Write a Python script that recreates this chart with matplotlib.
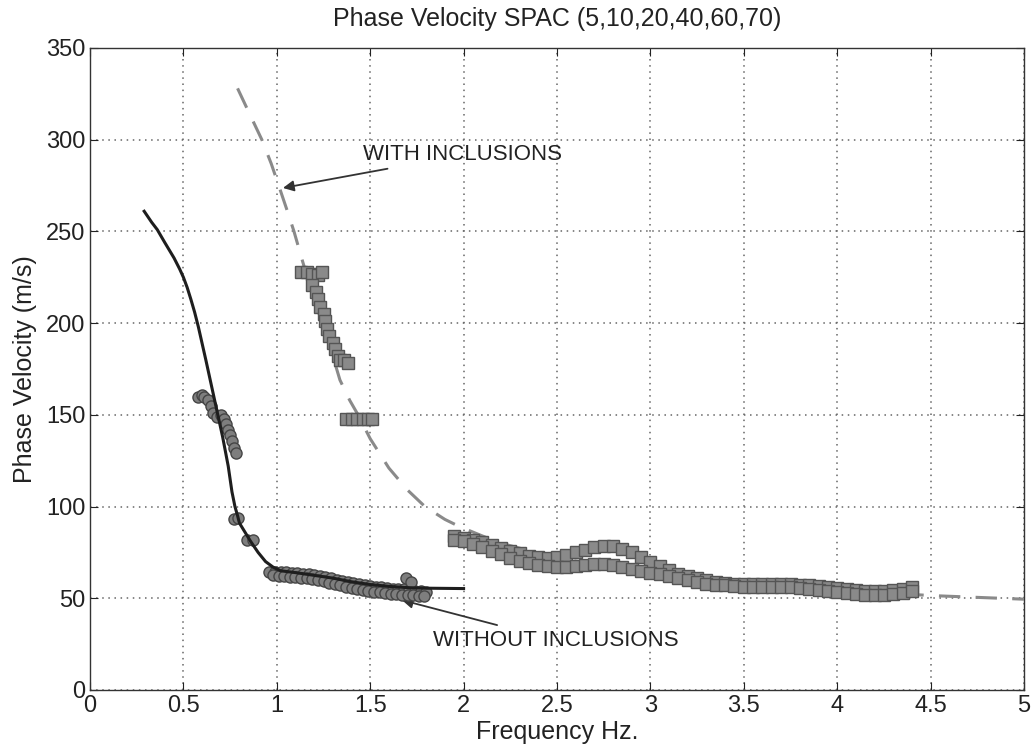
import matplotlib
matplotlib.use("Agg")
import matplotlib.pyplot as plt
from matplotlib import font_manager

names = {f.name for f in font_manager.fontManager.ttflist}
fam = ['Liberation Sans Narrow', 'Liberation Sans', 'DejaVu Sans']
fam = [f for f in fam if f in names] or ['DejaVu Sans']
plt.rcParams['font.family'] = fam

# --- data ---
title = "Phase Velocity SPAC (5,10,20,40,60,70)"
xlabel = "Frequency Hz."
ylabel = "Phase Velocity (m/s)"
xticks = [0, 0.5, 1, 1.5, 2, 2.5, 3, 3.5, 4, 4.5, 5]
xticklabels = ["0", "0.5", "1", "1.5", "2", "2.5", "3", "3.5", "4", "4.5", "5"]
yticks = [0, 50, 100, 150, 200, 250, 300, 350]

# model curve without inclusions (solid black)
without_f = [0.29, 0.33, 0.36, 0.40, 0.45, 0.48, 0.50, 0.52, 0.54, 0.56, 0.58,
             0.60, 0.62, 0.65, 0.68, 0.71, 0.74, 0.76, 0.776, 0.79, 0.80, 0.83,
             0.86, 0.90, 0.94, 0.98, 1.02, 1.10, 1.20, 1.30, 1.40, 1.50, 1.60,
             1.70, 1.80, 2.00]
without_v = [261, 255, 251, 244, 235.5, 229.5, 225, 219.5, 213, 206, 198,
             189, 180, 166, 152, 138, 122, 108, 100, 95, 91, 86,
             81, 75, 70, 67, 65, 64, 62.5, 61, 59, 57.5, 56.5,
             55.8, 55.5, 55.3]

# model curve with inclusions (dashed grey)
with_f = [0.79, 0.85, 0.92, 0.97, 1.017, 1.06, 1.092, 1.14, 1.2, 1.25, 1.3, 1.338,
          1.39, 1.435, 1.5, 1.6, 1.7, 1.793, 1.9, 1.98, 2.1, 2.2, 2.35, 2.5, 2.8,
          3.0, 3.25, 3.5, 4.0, 4.5, 5.0]
with_v = [328, 315, 300, 287, 273, 260, 250, 233, 213, 198, 182, 169,
          158, 150, 137, 121, 109, 100, 93, 89, 84, 80, 76, 72, 67,
          64, 61, 58, 54.5, 51.5, 49.5]

# observed SPAC points, without inclusions (circles)
circ_f = [0.58, 0.60, 0.61, 0.63, 0.65, 0.66, 0.68, 0.70, 0.72, 0.73, 0.74, 0.75,
          0.76, 0.77, 0.78, 0.77, 0.79, 0.84, 0.87, 1.69, 1.72]
circ_v = [160, 161, 160, 158, 155, 151, 149, 150, 148, 145, 142, 139,
          136, 132, 129, 93, 94, 82, 82, 61, 59]

circ_a_f = [0.96, 0.99, 1.02, 1.05, 1.08, 1.11, 1.14, 1.17, 1.20, 1.23, 1.26, 1.29,
            1.32, 1.35, 1.38, 1.41, 1.44, 1.47, 1.50, 1.53, 1.56, 1.59, 1.62, 1.65,
            1.68, 1.71, 1.74, 1.77, 1.80]
circ_a_v = [64.5, 64.5, 64.5, 64.3, 64, 63.8, 63.5, 63.2, 62.8, 62.3, 61.8, 61,
            60.2, 59.5, 58.8, 58.2, 57.7, 57.2, 56.8, 56.4, 56, 55.6, 55.3, 55,
            54.8, 54.5, 54.2, 53.8, 53.5]
circ_b_f = [0.98, 1.01, 1.04, 1.07, 1.10, 1.13, 1.16, 1.19, 1.22, 1.25, 1.28, 1.31,
            1.34, 1.37, 1.40, 1.43, 1.46, 1.49, 1.52, 1.55, 1.58, 1.61, 1.64, 1.67,
            1.70, 1.73, 1.76, 1.79]
circ_b_v = [62.5, 62.3, 62, 61.8, 61.5, 61.2, 60.8, 60.3, 59.8, 59.2, 58.5, 57.8,
            57, 56.3, 55.6, 55, 54.5, 54, 53.6, 53.2, 52.8, 52.5, 52.2, 52,
            51.8, 51.6, 51.5, 51.4]

# observed SPAC points, with inclusions (squares)
sq_f = [1.13, 1.16, 1.19, 1.22, 1.24, 1.19, 1.21, 1.22, 1.23, 1.25, 1.26, 1.27,
        1.28, 1.30, 1.31, 1.33, 1.34, 1.36, 1.38, 1.37, 1.40, 1.43, 1.46, 1.49, 1.51]
sq_v = [228, 228, 227, 226, 228, 221, 217, 213, 209, 205, 201, 197,
        193, 189, 186, 182, 180, 180, 178, 148, 148, 148, 148, 148, 148]

band_f = [1.95, 2.00, 2.05, 2.10, 2.15, 2.20, 2.25, 2.30, 2.35, 2.40, 2.45, 2.50,
          2.55, 2.60, 2.65, 2.70, 2.75, 2.80, 2.85, 2.90, 2.95, 3.00, 3.05, 3.10,
          3.15, 3.20, 3.25, 3.30, 3.35, 3.40, 3.45, 3.50, 3.55, 3.60, 3.65, 3.70,
          3.75, 3.80, 3.85, 3.90, 3.95, 4.00, 4.05, 4.10, 4.15, 4.20, 4.25, 4.30,
          4.35, 4.40]
band_upper = [84, 83, 82, 80.5, 79, 77.5, 76, 74.5, 73, 72.5, 72, 72.5,
              73.5, 75, 76.5, 78, 78.5, 78.5, 77, 75, 72.5, 70, 67.5, 65.5,
              63.5, 62, 61, 60, 59, 58.5, 58, 58, 58, 58, 58, 58,
              58, 57.5, 57, 56.5, 56, 55.5, 55, 54.5, 54, 54, 54, 54.5,
              55, 56]
band_lower = [82, 81, 79.5, 78, 76, 74, 72, 70.5, 69, 68, 67.5, 67,
              67, 67.5, 68, 68.5, 68.5, 68, 67, 66, 65, 64, 63, 62,
              61, 60, 59, 58, 57.5, 57, 56.5, 56, 56, 56, 56, 56,
              56, 55.5, 55, 54.5, 54, 53.5, 53, 52.5, 52, 52, 52, 52.5,
              53, 54]

fig = plt.figure(figsize=(10.32, 7.48), dpi=100)
ax = fig.add_axes([90 / 1032, 1 - 690 / 748, 934 / 1032, 642 / 748])

ax.plot(with_f, with_v, color='#8a8a8a', lw=2.2, dashes=(7, 5), zorder=3)

sq = dict(ls='none', marker='s', ms=8.5, mfc='#8a8a8a', mec='#555555', mew=1.0, zorder=4)
ax.plot(sq_f, sq_v, **sq)
ax.plot(band_f, band_upper, **sq)
ax.plot(band_f, band_lower, **sq)

ci = dict(ls='none', marker='o', ms=8, mfc='#7e7e7e', mec='#454545', mew=1.0, zorder=4)
ax.plot(circ_a_f, circ_a_v, **ci)
ax.plot(circ_b_f, circ_b_v, **ci)
ax.plot(circ_f, circ_v, **ci)

ax.plot(without_f, without_v, color='#1e1e1e', lw=2.2, zorder=5)

ax.set_xlim(0, 5)
ax.set_ylim(0, 350)
ax.set_xticks(xticks)
ax.set_xticklabels(xticklabels)
ax.set_yticks(yticks)
ax.tick_params(direction='in', top=True, right=True, labelsize=17, length=6,
               colors='#222222', labelcolor='#222222')
ax.grid(True, linestyle=(0, (1, 3)), color='#666666', lw=1.1)
for s in ax.spines.values():
    s.set_color('#333333')
    s.set_linewidth(1.0)

ax.set_title(title, fontsize=18, color='#222222', pad=16)
ax.set_xlabel(xlabel, fontsize=18, color='#222222', labelpad=2)
ax.set_ylabel(ylabel, fontsize=18, color='#222222', labelpad=6)

ax.annotate("WITH INCLUSIONS", xy=(1.033, 273.7), xytext=(1.461, 291.7),
            fontsize=16, color='#222222', va='center', ha='left',
            arrowprops=dict(arrowstyle='-|>', color='#333333', lw=1.3,
                            mutation_scale=16, shrinkA=2, shrinkB=0))
ax.annotate("WITHOUT INCLUSIONS", xy=(1.67, 49), xytext=(1.836, 27),
            fontsize=16, color='#222222', va='center', ha='left',
            arrowprops=dict(arrowstyle='-|>', color='#333333', lw=1.3,
                            mutation_scale=16, shrinkA=6, shrinkB=0))

fig.savefig("out.png", dpi=100)
